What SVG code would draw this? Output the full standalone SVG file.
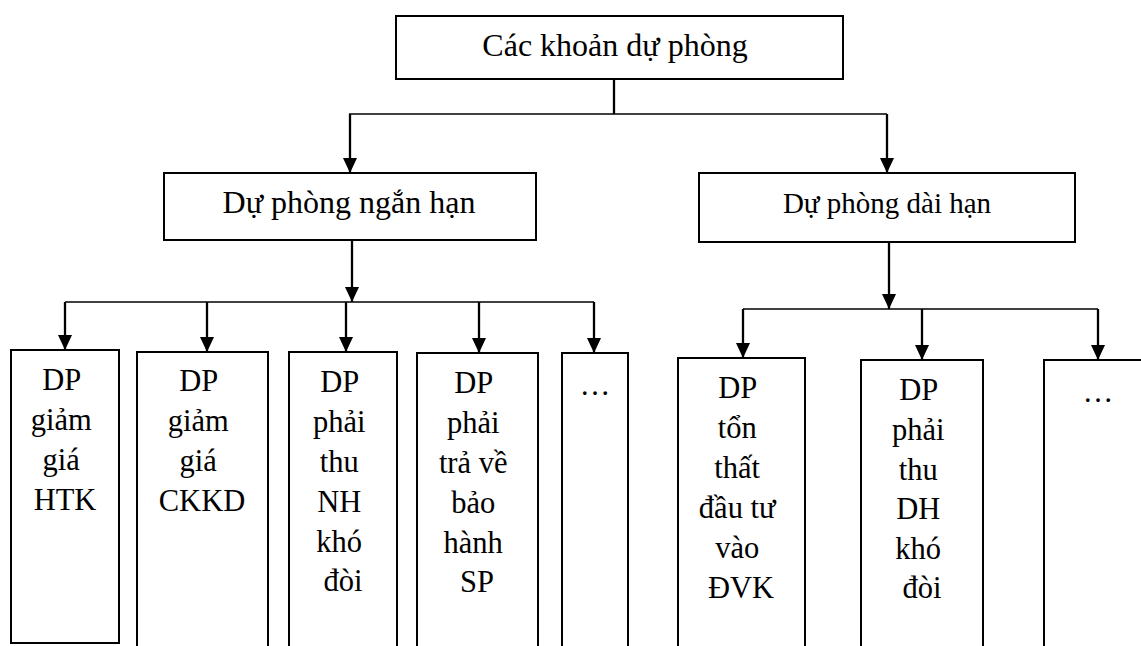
<svg xmlns="http://www.w3.org/2000/svg" width="1141" height="646" viewBox="0 0 1141 646">
<style>
  .box { fill: #ffffff; stroke: #000000; stroke-width: 2; }
  .t { fill: #000000; text-anchor: middle; }
  .big { font-size: 32px; }
  .mid { font-size: 29px; }
  .sm { font-size: 30.5px; }
  .ln { fill: none; stroke: #000000; stroke-width: 2.3; }
  .hl { fill: none; stroke: #000000; stroke-width: 1.6; }
</style>
<defs>
  <marker id="arr" markerUnits="userSpaceOnUse" markerWidth="15" markerHeight="15" refX="15" refY="7" orient="auto">
    <path d="M0,0 L15,7 L0,14 z" fill="#000000"/>
  </marker>
</defs>
<rect width="1141" height="646" fill="#ffffff"/>

<g id="connectors">
  <line class="ln" x1="614" y1="79" x2="614" y2="114"/>
  <line class="hl" x1="349" y1="114" x2="887" y2="114"/>
  <line class="ln" x1="350" y1="114" x2="350" y2="173" marker-end="url(#arr)"/>
  <line class="ln" x1="887" y1="114" x2="887" y2="173" marker-end="url(#arr)"/>

  <line class="ln" x1="352" y1="240" x2="352" y2="302" marker-end="url(#arr)"/>
  <line class="hl" x1="65" y1="302" x2="594" y2="302"/>
  <line class="ln" x1="65" y1="302" x2="65" y2="350" marker-end="url(#arr)"/>
  <line class="ln" x1="207" y1="302" x2="207" y2="352" marker-end="url(#arr)"/>
  <line class="ln" x1="346" y1="302" x2="346" y2="352" marker-end="url(#arr)"/>
  <line class="ln" x1="479" y1="302" x2="479" y2="353" marker-end="url(#arr)"/>
  <line class="ln" x1="594" y1="302" x2="594" y2="353" marker-end="url(#arr)"/>

  <line class="ln" x1="889" y1="242" x2="889" y2="309" marker-end="url(#arr)"/>
  <line class="hl" x1="743" y1="309" x2="1098" y2="309"/>
  <line class="ln" x1="743" y1="309" x2="743" y2="358" marker-end="url(#arr)"/>
  <line class="ln" x1="922" y1="309" x2="922" y2="360" marker-end="url(#arr)"/>
  <line class="ln" x1="1098" y1="309" x2="1098" y2="360" marker-end="url(#arr)"/>
</g>

<g font-family="'Liberation Serif', 'Times New Roman', Tinos, serif">
<g id="root">
  <rect class="box" x="396" y="16" width="447" height="63"/>
  <text class="t big" x="615" y="56">Các khoản dự phòng</text>
</g>

<g id="short-term">
  <rect class="box" x="164" y="173" width="372" height="67"/>
  <text class="t big" x="349" y="213">Dự phòng ngắn hạn</text>
</g>

<g id="long-term">
  <rect class="box" x="699" y="173" width="376" height="69"/>
  <text class="t mid" x="887" y="213">Dự phòng dài hạn</text>
</g>

<g id="dp-htk">
  <rect class="box" x="11" y="350" width="108" height="293"/>
  <text class="t sm" x="65">
    <tspan x="65" y="390">DP</tspan>
    <tspan x="65" y="430">giảm</tspan>
    <tspan x="65" y="470">giá</tspan>
    <tspan x="65" y="510">HTK</tspan>
  </text>
</g>

<g id="dp-ckkd">
  <rect class="box" x="137" y="352" width="131" height="310"/>
  <text class="t sm" x="202">
    <tspan x="202" y="391">DP</tspan>
    <tspan x="202" y="431">giảm</tspan>
    <tspan x="202" y="471">giá</tspan>
    <tspan x="202" y="511">CKKD</tspan>
  </text>
</g>

<g id="dp-nh">
  <rect class="box" x="289" y="352" width="108" height="310"/>
  <text class="t sm" x="343">
    <tspan x="343" y="392">DP</tspan>
    <tspan x="343" y="432">phải</tspan>
    <tspan x="343" y="472">thu</tspan>
    <tspan x="343" y="512">NH</tspan>
    <tspan x="343" y="552">khó</tspan>
    <tspan x="343" y="591">đòi</tspan>
  </text>
</g>

<g id="dp-bh">
  <rect class="box" x="417" y="353" width="121" height="310"/>
  <text class="t sm" x="477">
    <tspan x="477" y="393">DP</tspan>
    <tspan x="477" y="433">phải</tspan>
    <tspan x="477" y="473">trả về</tspan>
    <tspan x="477" y="513">bảo</tspan>
    <tspan x="477" y="553">hành</tspan>
    <tspan x="477" y="592">SP</tspan>
  </text>
</g>

<g id="short-more">
  <rect class="box" x="562" y="353" width="66" height="310"/>
  <text class="t sm" x="595" y="395">…</text>
</g>

<g id="dp-dvk">
  <rect class="box" x="678" y="358" width="127" height="310"/>
  <text class="t sm" x="741">
    <tspan x="741" y="398">DP</tspan>
    <tspan x="741" y="438">tổn</tspan>
    <tspan x="741" y="478">thất</tspan>
    <tspan x="741" y="518">đầu tư</tspan>
    <tspan x="741" y="558">vào</tspan>
    <tspan x="741" y="598">ĐVK</tspan>
  </text>
</g>

<g id="dp-dh">
  <rect class="box" x="861" y="360" width="122" height="310"/>
  <text class="t sm" x="922">
    <tspan x="922" y="400">DP</tspan>
    <tspan x="922" y="440">phải</tspan>
    <tspan x="922" y="480">thu</tspan>
    <tspan x="922" y="519">DH</tspan>
    <tspan x="922" y="559">khó</tspan>
    <tspan x="922" y="598">đòi</tspan>
  </text>
</g>

<g id="long-more">
  <rect class="box" x="1044" y="360" width="120" height="310"/>
  <text class="t sm" x="1098" y="402">…</text>
</g>
</g>
</svg>
